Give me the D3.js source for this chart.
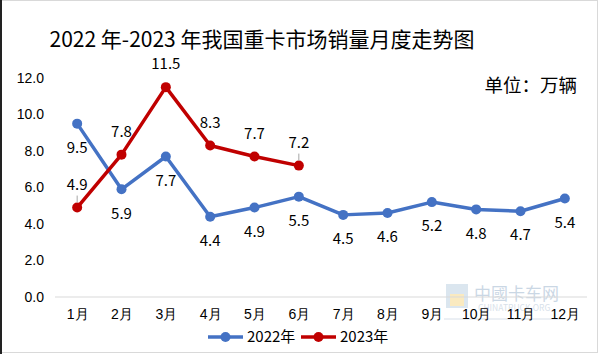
<!DOCTYPE html>
<html>
<head>
<meta charset="utf-8">
<script src="https://cdn.jsdelivr.net/npm/d3@7"></script>
<style>
  html, body { margin: 0; padding: 0; background: #fff; }
  svg { display: block; font-family: "Microsoft YaHei", "Noto Sans CJK SC", "Noto Sans", sans-serif; }
</style>
</head>
<body>
<script>
// 月份与销量（万辆）
const months = ["1月", "2月", "3月", "4月", "5月", "6月", "7月", "8月", "9月", "10月", "11月", "12月"];
const sales2022 = [9.5, 5.9, 7.7, 4.4, 4.9, 5.5, 4.5, 4.6, 5.2, 4.8, 4.7, 5.4];
const sales2023 = [4.9, 7.8, 11.5, 8.3, 7.7, 7.2];
const yTicks = [0, 2, 4, 6, 8, 10, 12];

const width = 599, height = 354;
const margin = {top: 78, right: 12, bottom: 57, left: 55};

const series = [
  {name: "2022年", values: sales2022, color: "#4472C4", labelDy: 24},
  {name: "2023年", values: sales2023, color: "#C00000", labelDy: -23},
];

const svg = d3.select("body").append("svg")
  .attr("width", width).attr("height", height);

// 外框
svg.append("rect")
  .attr("x", 0.5).attr("y", 0.5).attr("width", width - 2).attr("height", height - 2)
  .attr("fill", "#fff").attr("stroke", "#d9d9d9");
svg.append("line")
  .attr("x1", 1).attr("x2", 1).attr("y1", 0).attr("y2", height)
  .attr("stroke", "#222").attr("stroke-width", 2);

const x = d3.scalePoint()
  .domain(months)
  .range([margin.left, width - margin.right])
  .padding(0.5);
const y = d3.scaleLinear()
  .domain([0, 12])
  .range([height - margin.bottom, margin.top]);

// 标题
svg.append("text")
  .attr("x", 262).attr("y", 47)
  .attr("text-anchor", "middle")
  .style("font-size", "21px")
  .attr("fill", "#000")
  .text("2022 年-2023 年我国重卡市场销量月度走势图");

svg.append("text")
  .attr("x", 577).attr("y", 92)
  .attr("text-anchor", "end")
  .style("font-size", "18.5px")
  .attr("fill", "#000")
  .text("单位：万辆");

// 水印
const wm = svg.append("g").attr("opacity", 0.35);
wm.append("rect").attr("x", 446).attr("y", 284).attr("width", 22).attr("height", 24)
  .attr("fill", "#9bb8d3");
wm.append("rect").attr("x", 450).attr("y", 294).attr("width", 14).attr("height", 12)
  .attr("fill", "#f3c64e");
wm.append("text").attr("x", 474).attr("y", 300)
  .style("font-size", "17px").attr("fill", "#6b8fb5").text("中國卡车网");
wm.append("text").attr("x", 478).attr("y", 311)
  .style("font-size", "8.5px").attr("fill", "#8fa9c4").text("CHINATRUCK.ORG");
wm.append("line").attr("x1", 444).attr("x2", 565).attr("y1", 319).attr("y2", 319)
  .attr("stroke", "#8fa9c4");

// 坐标轴
const yAxis = svg.append("g")
  .attr("transform", `translate(${margin.left - 11},0)`)
  .call(d3.axisLeft(y).tickValues(yTicks).tickFormat(d3.format(".1f")).tickSize(0));
yAxis.select(".domain").remove();
yAxis.selectAll("text")
  .attr("x", 0)
  .style("font-size", "14px").style("font-family", "inherit").attr("fill", "#000");

svg.append("line")
  .attr("x1", margin.left).attr("x2", width - margin.right)
  .attr("y1", y(0)).attr("y2", y(0))
  .attr("stroke", "#d9d9d9").attr("stroke-width", 1);

const xAxis = svg.append("g")
  .attr("transform", `translate(0,${y(0)})`)
  .call(d3.axisBottom(x).tickSize(0).tickPadding(12));
xAxis.select(".domain").remove();
xAxis.selectAll("text")
  .style("font-size", "14px").style("font-family", "inherit").attr("fill", "#000");

// 折线
const line = d3.line()
  .x((d, i) => x(months[i]))
  .y(d => y(d));

series.forEach(s => {
  const g = svg.append("g");
  g.append("path")
    .datum(s.values)
    .attr("d", line)
    .attr("fill", "none")
    .attr("stroke", s.color)
    .attr("stroke-width", 3.5)
    .attr("stroke-linejoin", "round");
  g.selectAll("circle")
    .data(s.values)
    .join("circle")
    .attr("cx", (d, i) => x(months[i]))
    .attr("cy", d => y(d))
    .attr("r", 5)
    .attr("fill", s.color);
  g.selectAll("text")
    .data(s.values)
    .join("text")
    .attr("x", (d, i) => x(months[i]))
    .attr("y", d => y(d) + s.labelDy)
    .attr("dy", "0.35em")
    .attr("text-anchor", "middle")
    .style("font-size", "15px")
    .attr("fill", "#000")
    .text(d => d.toFixed(1));
});

// 引导线（1月、6月 2023）
[0, 5].forEach(i => {
  const cy = y(sales2023[i]);
  svg.append("line")
    .attr("x1", x(months[i])).attr("x2", x(months[i]))
    .attr("y1", cy - 12).attr("y2", cy - 5)
    .attr("stroke", "#a6a6a6").attr("stroke-width", 1);
});

// 图例
const legend = svg.append("g").attr("transform", "translate(208,337)");
series.forEach((s, i) => {
  const lg = legend.append("g").attr("transform", `translate(${i * 93},0)`);
  lg.append("line").attr("x1", 0).attr("x2", 35).attr("y1", 0).attr("y2", 0)
    .attr("stroke", s.color).attr("stroke-width", 3.5);
  lg.append("circle").attr("cx", 17.5).attr("cy", 0).attr("r", 5).attr("fill", s.color);
  lg.append("text").attr("x", 39).attr("y", 0).attr("dy", "0.35em")
    .style("font-size", "15px").attr("fill", "#000").text(s.name);
});
</script>
</body>
</html>
